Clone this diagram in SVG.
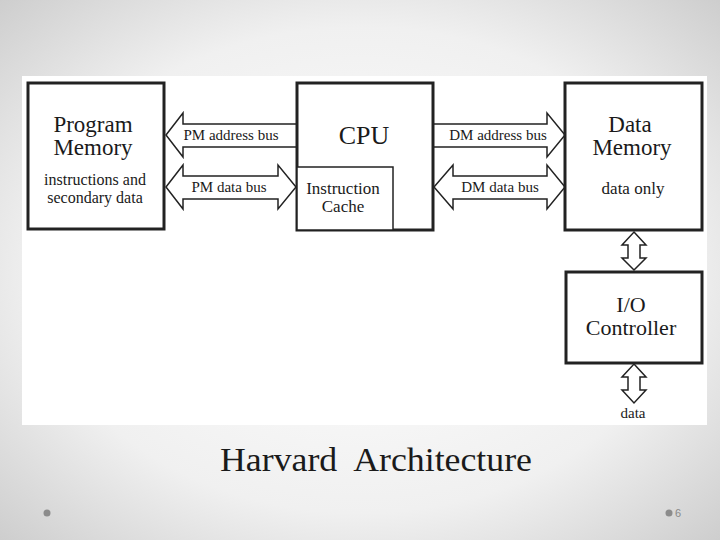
<svg xmlns="http://www.w3.org/2000/svg" width="720" height="540" viewBox="0 0 720 540">
<defs>
<radialGradient id="bg" cx="50%" cy="50%" r="75%">
<stop offset="0" stop-color="#ffffff"/>
<stop offset="0.6" stop-color="#f0f0f0"/>
<stop offset="1" stop-color="#c8c8c8"/>
</radialGradient>
<style>
.box{fill:#fff;stroke:#222;stroke-width:3}
.inner{fill:#fff;stroke:#222;stroke-width:1.5}
.bus{fill:#fff;stroke:#222;stroke-width:1.5;stroke-linejoin:miter}
.t{font-family:"Liberation Serif","Times New Roman",serif;fill:#1a1a1a;text-anchor:middle}
.big{font-size:23px}
.cpu{font-size:26px}
.mid{font-size:17px}
.pm{font-size:16px}
.sm{font-size:15px}
</style>
</defs>
<rect x="0" y="0" width="720" height="540" fill="url(#bg)"/>
<rect x="22" y="76" width="685" height="349" fill="#fff"/>
<g id="connectors">
<polygon class="bus" points="166,135 183,113 183,124 297,124 297,147 183,147 183,157"/>
<polygon class="bus" points="166,187 183,165 183,176 278,176 278,165 296,187 278,209 278,199 183,199 183,209"/>
<polygon class="bus" points="433,124 547,124 547,113 565,135 547,157 547,147 433,147"/>
<polygon class="bus" points="434,187 453,165 453,176 547,176 547,165 565,187 547,209 547,199 453,199 453,209"/>
<polygon class="bus" points="634,232 646,245 640,245 640,258 646,258 634,270 622,258 628,258 628,245 622,245"/>
<polygon class="bus" points="634,364 646,377 640,377 640,390 646,390 634,403 622,390 628,390 628,377 622,377"/>
<text class="t sm" x="231" y="140">PM address bus</text>
<text class="t sm" x="229" y="192">PM data bus</text>
<text class="t sm" x="498" y="140">DM address bus</text>
<text class="t sm" x="500" y="192">DM data bus</text>
<text class="t sm" x="633" y="418">data</text>
</g>
<g id="program-memory">
<rect class="box" x="28" y="83" width="136" height="146"/>
<text class="t big" x="93" y="132">Program</text>
<text class="t big" x="93" y="155">Memory</text>
<text class="t pm" x="95" y="185">instructions and</text>
<text class="t pm" x="95" y="203">secondary data</text>
</g>
<g id="cpu">
<rect class="box" x="297" y="83" width="136" height="147"/>
<rect class="inner" x="297" y="167" width="96" height="63"/>
<text class="t cpu" x="364" y="144">CPU</text>
<text class="t mid" x="343" y="194">Instruction</text>
<text class="t mid" x="343" y="212">Cache</text>
</g>
<g id="data-memory">
<rect class="box" x="565" y="83" width="137" height="147"/>
<text class="t big" x="630" y="132">Data</text>
<text class="t big" x="632" y="155">Memory</text>
<text class="t mid" x="633" y="194">data only</text>
</g>
<g id="io-controller">
<rect class="box" x="566" y="272" width="136" height="91"/>
<text class="t" x="631" y="312" font-size="22">I/O</text>
<text class="t" x="631" y="335" font-size="22">Controller</text>
</g>
<text class="t" x="376" y="471" font-size="33" textLength="312" lengthAdjust="spacingAndGlyphs" xml:space="preserve">Harvard  Architecture</text>
<circle cx="47" cy="513" r="3.5" fill="#8c8c8c"/>
<circle cx="669" cy="513" r="3.5" fill="#8c8c8c"/>
<text x="675" y="517" font-family="Liberation Sans, Arial, sans-serif" font-size="11" fill="#888">6</text>
</svg>
